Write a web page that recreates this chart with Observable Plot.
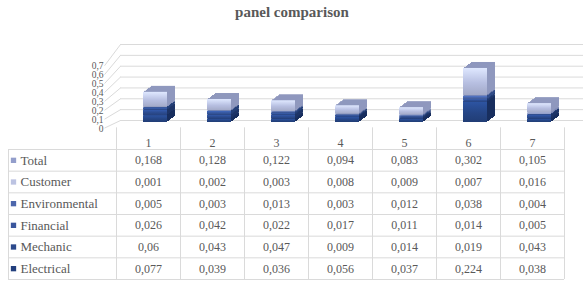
<!DOCTYPE html>
<html><head><meta charset="utf-8">
<script src="https://cdn.jsdelivr.net/npm/d3@7"></script>
<script src="https://cdn.jsdelivr.net/npm/@observablehq/plot@0.6"></script>
<style>
html,body{margin:0;padding:0;background:#fff;}
#wrap{position:relative;width:584px;height:282px;overflow:hidden;}
#wrap svg{position:absolute;left:0;top:0;}
#title{position:absolute;left:0;top:4px;width:584px;text-align:center;font:bold 15px "Liberation Serif",serif;color:#595959;}
</style></head><body><div id="wrap"><div id="title">panel comparison</div></div>
<script>
// ---- data ----
const categories = ["1","2","3","4","5","6","7"];
const Total         = [0.168, 0.128, 0.122, 0.094, 0.083, 0.302, 0.105];
const Customer      = [0.001, 0.002, 0.003, 0.008, 0.009, 0.007, 0.016];
const Environmental = [0.005, 0.003, 0.013, 0.003, 0.012, 0.038, 0.004];
const Financial     = [0.026, 0.042, 0.022, 0.017, 0.011, 0.014, 0.005];
const Mechanic      = [0.06,  0.043, 0.047, 0.009, 0.014, 0.019, 0.043];
const Electrical    = [0.077, 0.039, 0.036, 0.056, 0.037, 0.224, 0.038];
const rowNames = ["Total","Customer","Environmental","Financial","Mechanic","Electrical"];
const yTickValues = [0, 0.1, 0.2, 0.3, 0.4, 0.5, 0.6, 0.7];

// ---- styles ----
const seriesValues = {Total, Customer, Environmental, Financial, Mechanic, Electrical};
const stackOrder = ["Electrical","Mechanic","Financial","Environmental","Customer","Total"];
const frontColor = {Electrical:"#254585", Mechanic:"#2b4b8f", Financial:"#35569d", Environmental:"#4866ac", Customer:"#a0abd6", Total:"#b7bfe1"};
const sideColor  = {Electrical:"#182e5e", Mechanic:"#1d3467", Financial:"#243f77", Environmental:"#314c88", Customer:"#7d88b4", Total:"#8f98be"};
const swatchColor = {Total:"#939ecb", Customer:"#bcc3e2", Environmental:"#4d67ac", Financial:"#3a569d", Mechanic:"#2c4a8c", Electrical:"#223f7d"};
const grid = "#dadada", ink = "#595959";
const fmt = v => String(v).replace(".", ",");
const font = '"Liberation Serif", serif';
const svgStyle = "background: transparent; overflow: visible; font-family: 'Liberation Serif', serif; font-size: 12px;";

const long = stackOrder.flatMap(s => categories.map((c, i) => ({cat: c, series: s, value: seriesValues[s][i]})));

const wrap = document.getElementById("wrap");

// ---- back wall / side wall (perspective grid) ----
const frontEdge = t => t * 0.82 - 0.07; // side-wall front edge in wall units (perspective)
const wall = Plot.plot({
  width: 584, height: 282, marginLeft: 120, marginRight: 1, marginTop: 0, marginBottom: 0,
  x: {domain: [0, 1], range: [104, 120], axis: null},
  y: {domain: [0, 0.7], range: [120, 44], axis: null},
  style: svgStyle,
  marks: [
    Plot.ruleY(yTickValues, {stroke: grid, strokeWidth: 1}),
    Plot.link(yTickValues, {x1: () => 0, x2: () => 1, y1: frontEdge, y2: t => t, stroke: grid, strokeWidth: 1})
  ]
});
wrap.appendChild(wall);

// ---- 3D stacked columns ----
const depthSteps = [8, 7, 6, 5, 4, 3, 2, 1];
const barOpts = {x: "cat", y: "value", z: "series", order: stackOrder, insetLeft: 27, insetRight: 13};
const bars = Plot.plot({
  width: 584, height: 282, marginLeft: 104, marginRight: 20, marginTop: 0, marginBottom: 0,
  x: {type: "band", domain: categories, range: [116, 564], padding: 0, axis: null},
  y: {domain: [0, 0.7], range: [122, 59.4], axis: null},
  color: {domain: [...stackOrder, ...stackOrder.map(s => s + " side")],
          range: [...stackOrder.map(s => `url(#g-${s})`), ...stackOrder.map(s => sideColor[s])]},
  style: svgStyle,
  marks: [
    ...depthSteps.map(k => Plot.barY(long, Plot.stackY({...barOpts, fill: d => d.series + " side", dx: k, dy: -Math.round(k * 0.72)}))),
    Plot.barY(long, Plot.stackY({...barOpts, fill: "series"})),
    Plot.text(yTickValues, {y: t => t, frameAnchor: "left", text: fmt, textAnchor: "end", dx: -1, dy: 6, fontSize: 9.5, fontFamily: font, fill: ink})
  ]
});
const defs = stackOrder.map(s => {
  const c = d3.color(frontColor[s]);
  return `<linearGradient id="g-${s}" x1="0" y1="0" x2="0" y2="1">
    <stop offset="0" stop-color="${c.brighter(0.55).formatHex()}"/>
    <stop offset="0.55" stop-color="${c.formatHex()}"/>
    <stop offset="1" stop-color="${c.darker(0.35).formatHex()}"/></linearGradient>`;
}).join("");
bars.insertAdjacentHTML("afterbegin", `<defs>${defs}</defs>`);
wrap.appendChild(bars);

// ---- data table ----
const cells = rowNames.flatMap((r, ri) => categories.map((c, ci) => ({row: ri, col: ci, value: seriesValues[r][ci]})));
const table = Plot.plot({
  width: 584, height: 282, marginLeft: 8, marginRight: 20, marginTop: 149, marginBottom: 3,
  x: {domain: [0, categories.length], range: [116, 564], axis: null},
  y: {domain: [1, rowNames.length + 1], range: [149, 279], axis: null},
  color: {domain: rowNames, range: rowNames.map(r => swatchColor[r])},
  style: svgStyle,
  marks: [
    Plot.ruleY(d3.range(1, rowNames.length + 2), {y: d => d, stroke: grid}),
    Plot.ruleX(d3.range(0, categories.length + 1), {x: d => d, y1: () => 0, y2: () => rowNames.length + 1, stroke: grid}),
    Plot.frame({anchor: "left", stroke: grid}),
    Plot.text(categories, {x: (d, i) => i + 0.5, y: () => 0.5, text: d => d, dy: 4, fill: ink, fontSize: 12, fontFamily: font}),
    Plot.text(cells, {x: d => d.col + 0.5, y: d => d.row + 1.5, text: d => fmt(d.value), fill: ink, fontSize: 12, fontFamily: font}),
    Plot.dot(rowNames, {y: (d, i) => i + 1.5, frameAnchor: "left", dx: 5, symbol: "square", r: 3, fill: d => d}),
    Plot.text(rowNames, {y: (d, i) => i + 1.5, frameAnchor: "left", dx: 12, text: d => d, textAnchor: "start", fill: ink, fontSize: 13, fontFamily: font})
  ]
});
wrap.appendChild(table);
</script>
</body></html>
